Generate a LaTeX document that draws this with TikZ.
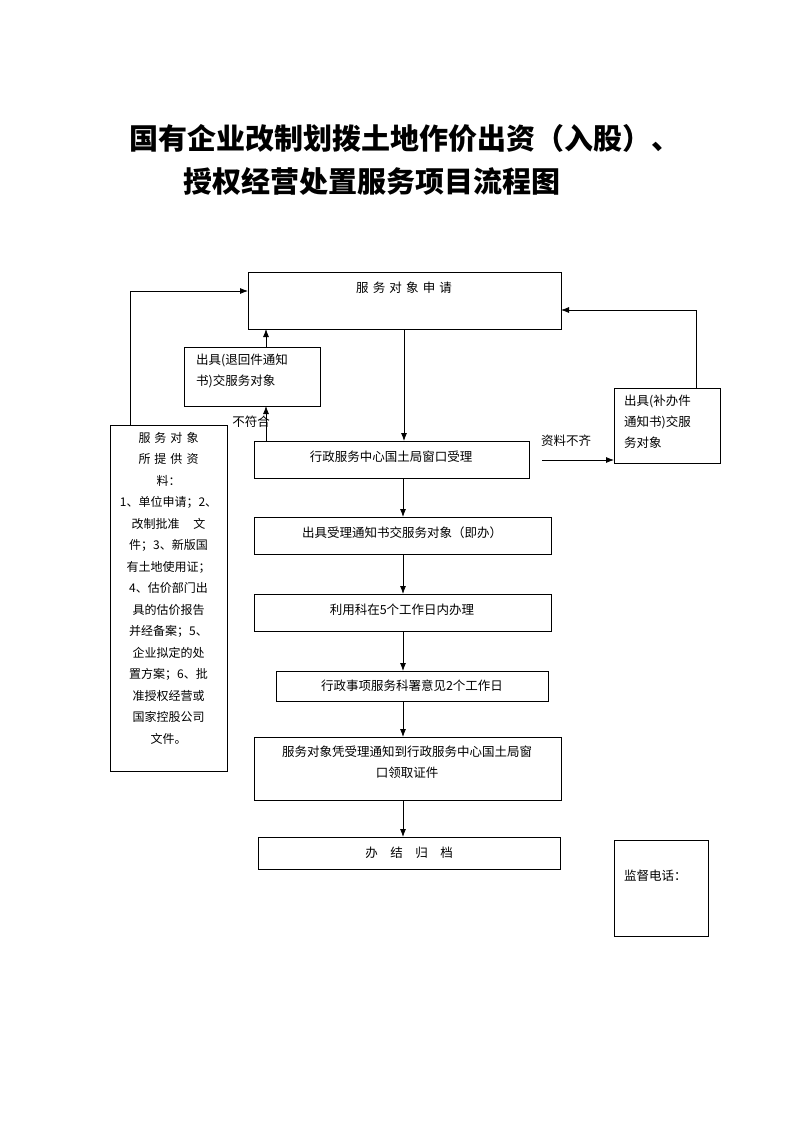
\documentclass[tikz,border=0pt]{standalone}
\usepackage{fontspec}
\setmainfont{Liberation Serif}
\newfontfamily\cjk{Noto Sans CJK SC}
\usetikzlibrary{arrows.meta}
\begin{document}
\begin{tikzpicture}[x=1pt,y=-1pt,
  box/.style={draw,line width=0.8pt,inner sep=0pt},
  txt/.style={font=\cjk\fontsize{12.5}{21}\selectfont,inner sep=0pt},
  arr/.style={line width=0.8pt,-{Latex[length=8pt,width=6pt]}}]
   \useasboundingbox (0,0) rectangle (800,1132);
   % title
   \node [font=\cjk\bfseries\fontsize{29}{34}\selectfont,anchor=west] (t1) at (126,138) {国有企业改制划拨土地作价出资（入股）、};
   \node [font=\cjk\bfseries\fontsize{29}{34}\selectfont,anchor=west] (t2) at (180,181) {授权经营处置服务项目流程图};
   % boxes
   \draw [box] (248,272) rectangle (561,329);
   \node [txt] (apply) at (404,288) {服\,\,务\,\,对\,\,象\,\,申\,\,请};
   \draw [box] (184,347) rectangle (320,406);
   \node [txt,align=left,anchor=north west] (back) at (196,354) {出具(退回件通知\\书)交服务对象};
   \draw [box] (614,388) rectangle (720,463);
   \node [txt,align=left,anchor=north west] (supp) at (624,395) {出具(补办件\\通知书)交服\\务对象};
   \draw [box] (110,425) rectangle (227,771);
   \node [txt,align=center,anchor=north,font=\cjk\fontsize{12}{21.5}\selectfont] (docs) at (168.5,432)
     {服\,\,务\,\,对\,\,象\\所\,\,提\,\,供\,\,资\\料：\\1、单位申请；2、\\改制批准\quad\,文\\件；3、新版国\\有土地使用证；\\4、估价部门出\\具的估价报告\\并经备案；5、\\企业拟定的处\\置方案；6、批\\准授权经营或\\国家控股公司\\文件。};
   \draw [box] (254,441) rectangle (529,478);
   \node [txt] (recv) at (391,457) {行政服务中心国土局窗口受理};
   \draw [box] (254,517) rectangle (551,554);
   \node [txt] (notice) at (402,533) {出具受理通知书交服务对象（即办）};
   \draw [box] (254,594) rectangle (551,631);
   \node [txt] (handle) at (402,610) {利用科在5个工作日内办理};
   \draw [box] (276,671) rectangle (548,701);
   \node [txt] (sign) at (412,686) {行政事项服务科署意见2个工作日};
   \draw [box] (254,737) rectangle (561,800);
   \node [txt,align=center] (cert) at (407,762) {服务对象凭受理通知到行政服务中心国土局窗\\口领取证件};
   \draw [box] (258,837) rectangle (560,869);
   \node [txt] (done) at (409,853) {办\quad 结\quad 归\quad 档};
   \draw [box] (614,840) rectangle (708,936);
   \node [txt,anchor=west] (tel) at (624,876) {监督电话：};
   % connectors
   \coordinate (a1) at (404,329); \coordinate (a2) at (404,441);
   \draw [arr] (a1) -- (a2);
   \coordinate (l1) at (130,425); \coordinate (l2) at (130,291); \coordinate (l3) at (248,291);
   \draw [arr] (l1) -- (l2) -- (l3);
   \coordinate (b1) at (266,347); \coordinate (b2) at (266,329);
   \draw [arr] (b1) -- (b2);
   \coordinate (c1) at (266,441); \coordinate (c2) at (266,406);
   \draw [arr] (c1) -- (c2);
   \node [txt,anchor=east] (nf) at (270,422) {不符合};
   \coordinate (r1) at (696,388); \coordinate (r2) at (696,310); \coordinate (r3) at (561,310);
   \draw [arr] (r1) -- (r2) -- (r3);
   \coordinate (s1) at (542,460); \coordinate (s2) at (614,460);
   \draw [arr] (s1) -- (s2);
   \node [txt] (lack) at (566,441) {资料不齐};
   \foreach \ya/\yb in {478/517,554/594,631/671,701/737,800/837}
     \draw [arr] (403,\ya) -- (403,\yb);
\end{tikzpicture}
\end{document}
